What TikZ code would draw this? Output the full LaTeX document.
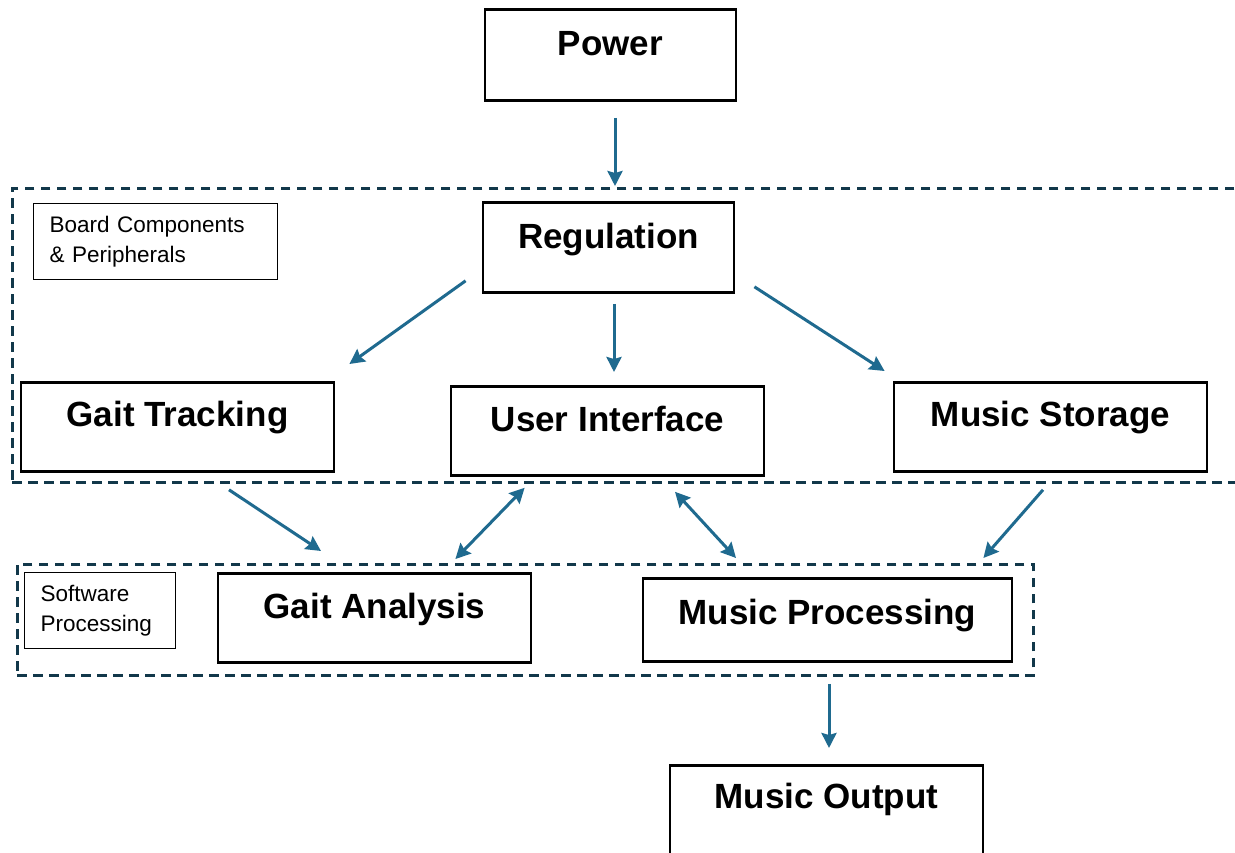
\documentclass[tikz,border=0pt]{standalone}
\usepackage{fontspec}
\setmainfont{Liberation Sans}
\usetikzlibrary{arrows.meta,calc}
\definecolor{flowblue}{HTML}{1F6A8F}
\definecolor{framenavy}{HTML}{12384A}
\begin{document}
\begin{tikzpicture}[x=1pt,y=-1pt,
  block/.style={draw=black, line width=2.8pt, inner sep=0pt, anchor=north,
    font=\fontsize{35}{42}\selectfont\bfseries},
  tag/.style={draw=black, line width=1.2pt, anchor=north west, align=left,
    inner xsep=16pt, inner ysep=0pt, minimum height=76pt,
    font=\fontsize{22.5}{30}\selectfont},
  group/.style={draw=framenavy, line width=2.8pt, dash pattern=on 9.5pt off 6.5pt,
    inner sep=0pt, anchor=north west},
  flow/.style={draw=flowblue, line width=3pt,
    -{Stealth[length=15pt,width=15pt,inset=2pt]}},
  twoway/.style={draw=flowblue, line width=3pt,
    {Stealth[length=15pt,width=15pt,inset=2pt]}-{Stealth[length=15pt,width=15pt,inset=2pt]}}
]
\clip (0,0) rectangle (1235,853);
\fill[white] (0,0) rectangle (1235,853);

% group frames
\node[group, minimum width=1240pt, minimum height=294pt] (board) at (11,187) {};
\node[group, minimum width=1016pt, minimum height=111pt] (soft) at (16,563) {};

% group captions
\node[tag, text width=212pt] (bcp) at (33,203) {Board Components\\\& Peripherals};
\node[tag, text width=119pt] (swp) at (24,572) {Software\\Processing};

% blocks
\node[block, minimum width=251pt, text height=46pt, text depth=45pt] (pow) at (610.5,8) {Power};
\node[block, minimum width=251pt, text height=46pt, text depth=44pt] (reg) at (608.5,201) {Regulation};
\node[block, minimum width=313pt, text height=44pt, text depth=45pt] (gt) at (177.5,381) {Gait Tracking};
\node[block, minimum width=313pt, text height=45pt, text depth=44pt] (ui) at (607.5,385) {User Interface};
\node[block, minimum width=313pt, text height=44pt, text depth=45pt] (ms) at (1050.5,381) {Music Storage};
\node[block, minimum width=313pt, text height=45pt, text depth=44pt] (ga) at (374.5,572) {Gait Analysis};
\node[block, minimum width=369pt, text height=46pt, text depth=37pt] (mp) at (827.5,577) {Music Processing};
\node[block, minimum width=313pt, text height=43pt, text depth=60pt] (mo) at (826.5,764) {Music Output};

% connectors
\draw[flow] ([shift={(4.5,16)}]pow.south) -- ([shift={(6.5,-15)}]reg.north);
\draw[flow] ([shift={(-16,-13)}]reg.south west) -- ([shift={(14,-17)}]gt.north east);
\draw[flow] ([shift={(5.5,10)}]reg.south) -- ([shift={(6.5,-13)}]ui.north);
\draw[flow] ([shift={(19,-7)}]reg.south east) -- ([shift={(-8,-10)}]ms.north west);
\draw[flow] ([shift={(51.5,17)}]gt.south) -- ([shift={(-53.5,-21)}]ga.north);
\draw[twoway] ([shift={(-77,-13)}]ga.north east) -- ([shift={(75,11)}]ui.south west);
\draw[twoway] ([shift={(67.5,15)}]ui.south) -- ([shift={(-91.5,-19)}]mp.north);
\draw[flow] ([shift={(-7.5,17)}]ms.south) -- ([shift={(-30,-19)}]mp.north east);
\draw[flow] ([shift={(1.5,21)}]mp.south) -- ([shift={(2.5,-16)}]mo.north);
\end{tikzpicture}
\end{document}
